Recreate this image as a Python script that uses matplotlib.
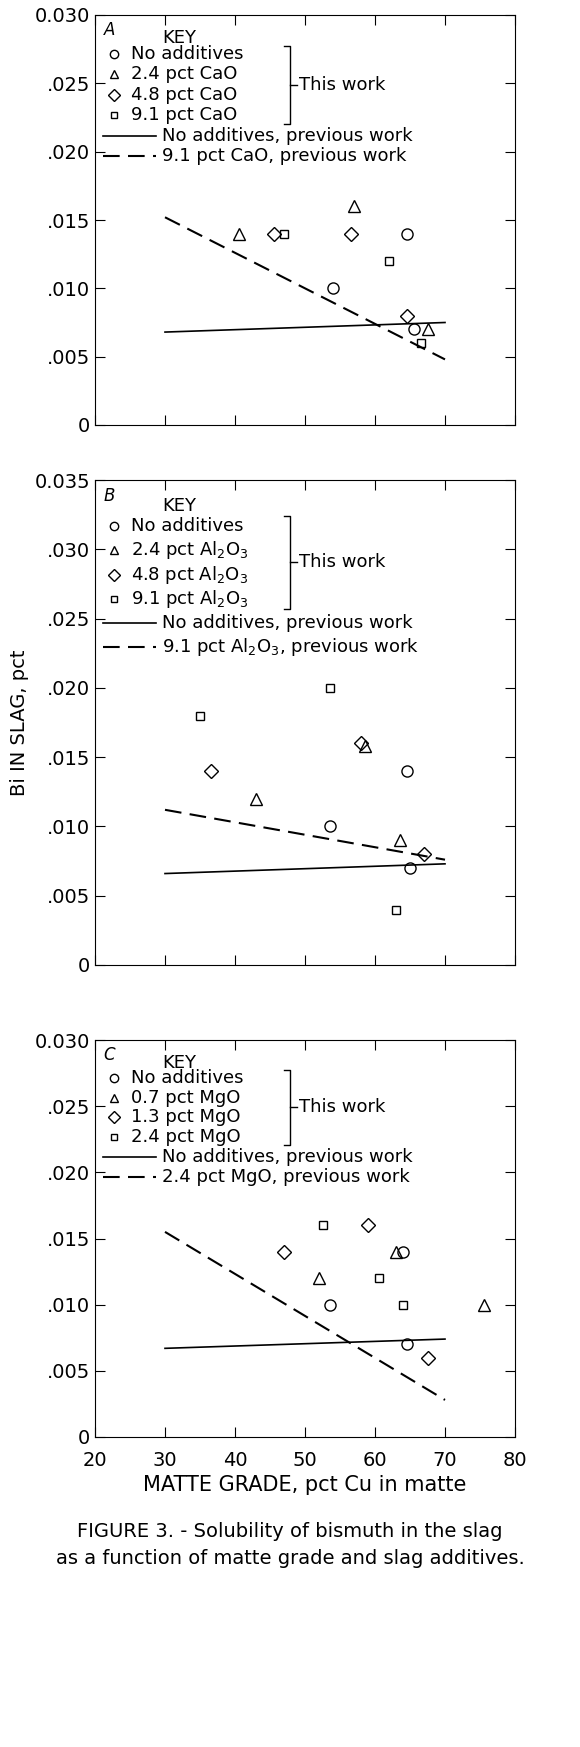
import matplotlib.pyplot as plt

# panel data: (x, y) per series
panels = [
    dict(letter="A", ymax=0.030, ytop="0.030",
         circ=([54, 64.5, 65.5], [0.010, 0.014, 0.007]),
         tri=([40.5, 57, 67.5], [0.014, 0.016, 0.007]),
         dia=([45.5, 56.5, 64.5], [0.014, 0.014, 0.008]),
         sq=([47, 62, 66.5], [0.014, 0.012, 0.006]),
         solid=([30, 70], [0.0068, 0.0075]),
         dashed=([30, 70], [0.0152, 0.0048]),
         keys=["No additives", "2.4 pct CaO", "4.8 pct CaO", "9.1 pct CaO",
               "No additives, previous work", "9.1 pct CaO, previous work"]),
    dict(letter="B", ymax=0.035, ytop="0.035",
         circ=([53.5, 64.5, 65], [0.010, 0.014, 0.007]),
         tri=([43, 58.5, 63.5], [0.012, 0.0158, 0.009]),
         dia=([36.5, 58, 67], [0.014, 0.016, 0.008]),
         sq=([35, 53.5, 63], [0.018, 0.020, 0.004]),
         solid=([30, 70], [0.0066, 0.0073]),
         dashed=([30, 70], [0.0112, 0.0076]),
         keys=["No additives", "2.4 pct Al$_2$O$_3$", "4.8 pct Al$_2$O$_3$", "9.1 pct Al$_2$O$_3$",
               "No additives, previous work", "9.1 pct Al$_2$O$_3$, previous work"]),
    dict(letter="C", ymax=0.030, ytop="0.030",
         circ=([53.5, 64, 64.5], [0.010, 0.014, 0.007]),
         tri=([52, 63, 75.5], [0.012, 0.014, 0.010]),
         dia=([47, 59, 67.5], [0.014, 0.016, 0.006]),
         sq=([52.5, 60.5, 64], [0.016, 0.012, 0.010]),
         solid=([30, 70], [0.0067, 0.0074]),
         dashed=([30, 70], [0.0155, 0.0028]),
         keys=["No additives", "0.7 pct MgO", "1.3 pct MgO", "2.4 pct MgO",
               "No additives, previous work", "2.4 pct MgO, previous work"]),
]

plt.rcParams['font.family'] = 'DejaVu Sans'
fig = plt.figure(figsize=(5.8, 17.47), dpi=100)
W, H = 580, 1747
boxes = [(15, 425), (480, 965), (1040, 1437)]
left, right = 95, 515
fs = 13

for i, (p, (top, bot)) in enumerate(zip(panels, boxes)):
    ax = fig.add_axes([left / W, 1 - bot / H, (right - left) / W, (bot - top) / H])
    ax.plot(*p["circ"], 'o', mfc='none', mec='k', ms=8, mew=1)
    ax.plot(*p["tri"], '^', mfc='none', mec='k', ms=8, mew=1)
    ax.plot(*p["dia"], 'D', mfc='none', mec='k', ms=7, mew=1)
    ax.plot(*p["sq"], 's', mfc='none', mec='k', ms=6, mew=1)
    ax.plot(*p["solid"], 'k-', lw=1.2)
    ax.plot(*p["dashed"], 'k', ls=(0, (8, 4)), lw=1.5)
    ax.set_xlim(20, 80)
    ax.set_ylim(0, p["ymax"])
    ax.set_xticks(range(20, 81, 10))
    yt = [k * 0.005 for k in range(int(round(p["ymax"] / 0.005)) + 1)]
    ax.set_yticks(yt)
    labs = ["0"] + [("%.3f" % v)[1:] for v in yt[1:-1]] + [p["ytop"]]
    ax.set_yticklabels(labs, fontsize=14)
    ax.tick_params(direction='in', length=7, top=True, right=True)
    if i < 2:
        ax.set_xticklabels([])
    else:
        ax.tick_params(axis='x', labelsize=14, pad=10)
        ax.set_xlabel("MATTE GRADE, pct Cu in matte", fontsize=15)
    if i == 1:
        ax.set_ylabel("Bi IN SLAG, pct", fontsize=14)
    # key
    ax.text(0.02, 0.985, p["letter"], transform=ax.transAxes, fontsize=12, style='italic', va='top')
    ax.text(0.16, 0.965, "KEY", transform=ax.transAxes, fontsize=fs, va='top')
    ys = [0.905, 0.855, 0.805, 0.755, 0.705, 0.655]
    mk = ['o', '^', 'D', 's']
    for j in range(4):
        ax.plot([0.045], [ys[j]], mk[j], transform=ax.transAxes, mfc='none', mec='k',
                ms=6 if j < 3 else 5, mew=1, clip_on=False)
        ax.text(0.085, ys[j], p["keys"][j], transform=ax.transAxes, fontsize=fs, va='center')
    ax.plot([0.45, 0.465, 0.465, 0.45], [ys[0] + 0.02, ys[0] + 0.02, ys[3] - 0.02, ys[3] - 0.02],
            'k-', lw=1, transform=ax.transAxes)
    ax.plot([0.465, 0.48], [0.83, 0.83], 'k-', lw=1, transform=ax.transAxes)
    ax.text(0.485, 0.83, "This work", transform=ax.transAxes, fontsize=fs, va='center')
    ax.plot([0.02, 0.145], [ys[4]] * 2, 'k-', lw=1.2, transform=ax.transAxes)
    ax.plot([0.02, 0.145], [ys[5]] * 2, 'k', ls=(0, (8, 4)), lw=1.5, transform=ax.transAxes)
    ax.text(0.16, ys[4], p["keys"][4], transform=ax.transAxes, fontsize=fs, va='center')
    ax.text(0.16, ys[5], p["keys"][5], transform=ax.transAxes, fontsize=fs, va='center')

fig.text(0.5, 1 - 1545 / H, "FIGURE 3. - Solubility of bismuth in the slag\nas a function of matte grade and slag additives.",
         ha='center', va='center', fontsize=14, linespacing=1.5)
fig.savefig("out.png", dpi=100)
